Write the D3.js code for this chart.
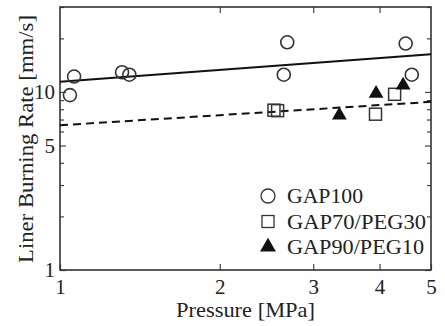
<!DOCTYPE html>
<html>
<head>
<meta charset="utf-8">
<script src="https://cdn.jsdelivr.net/npm/d3@7"></script>
<style>
  body { margin: 0; background: #fff; }
  text { font-family: "Liberation Serif", "Times New Roman", serif; fill: #222; }
</style>
</head>
<body>
<div class="chart"></div>
<script>
// data
const gap100 = [
  [1.044, 9.6], [1.063, 12.2], [1.309, 12.9], [1.351, 12.5],
  [2.64, 12.5], [2.68, 19.0], [4.48, 18.7], [4.60, 12.5]
]
const gap70peg30 = [[2.53, 7.9], [2.57, 7.85], [3.93, 7.5], [4.27, 9.7]]
const gap90peg10 = [[3.36, 7.4], [3.94, 9.8], [4.43, 10.9]]

// fitted lines (end points)
const fitSolid = [[1, 11.4], [5, 16.3]]
const fitDashed = [[1, 6.5], [5, 8.8]]

const xTicks = [1, 2, 3, 4, 5]
const yMajor = [1, 5, 10]
const yMinor = [2, 3, 4, 6, 7, 8, 9, 20, 30]

const legendItems = ["GAP100", "GAP70/PEG30", "GAP90/PEG10"]

let dimensions = {
  width: 445,
  height: 326,
  margin: { top: 7, right: 14, bottom: 56, left: 60 }
}
dimensions.boundedWidth = dimensions.width - dimensions.margin.left - dimensions.margin.right
dimensions.boundedHeight = dimensions.height - dimensions.margin.top - dimensions.margin.bottom

const svg = d3.select(".chart")
  .append("svg")
  .attr("width", dimensions.width)
  .attr("height", dimensions.height)

const bounds = svg.append("g")
  .attr("transform", `translate(${dimensions.margin.left},${dimensions.margin.top})`)

const xScale = d3.scaleLog()
  .domain([1, 5])
  .range([0, dimensions.boundedWidth])

const yScale = d3.scaleLog()
  .domain([1, 30])
  .range([dimensions.boundedHeight, 0])

const W = dimensions.boundedWidth, H = dimensions.boundedHeight

// axes, ticks pointing inward
const xAxis = d3.axisBottom(xScale).tickValues(xTicks).tickFormat(d3.format("d")).tickSize(-6).tickPadding(9)
bounds.append("g").attr("class", "xAxis")
  .attr("transform", `translate(0,${H})`)
  .call(xAxis)
bounds.append("g").attr("class", "xAxisTop")
  .call(d3.axisTop(xScale).tickValues([2, 3, 4]).tickFormat("").tickSize(-6))

const yAxis = d3.axisLeft(yScale).tickValues(yMajor).tickFormat(d3.format("d")).tickSize(-6).tickPadding(5)
bounds.append("g").attr("class", "yAxis").call(yAxis)
bounds.append("g").attr("class", "yMinor")
  .call(d3.axisLeft(yScale).tickValues(yMinor).tickFormat("").tickSize(-4))
bounds.append("g").attr("class", "yAxisRight")
  .attr("transform", `translate(${W},0)`)
  .call(d3.axisRight(yScale).tickValues(yMajor).tickFormat("").tickSize(-6))
bounds.append("g").attr("class", "yMinorRight")
  .attr("transform", `translate(${W},0)`)
  .call(d3.axisRight(yScale).tickValues(yMinor).tickFormat("").tickSize(-4))

bounds.selectAll(".domain").remove()
bounds.selectAll(".tick line").attr("stroke", "#444").attr("stroke-width", 1.2)
bounds.selectAll(".tick text")
  .style("font-family", "Liberation Serif, serif")
  .style("font-size", "21px")
  .attr("fill", "#222")

// frame
bounds.append("rect")
  .attr("width", W).attr("height", H)
  .attr("fill", "none").attr("stroke", "#333").attr("stroke-width", 1.6)

// fit lines
const line = d3.line().x(d => xScale(d[0])).y(d => yScale(d[1]))
bounds.append("path").datum(fitSolid)
  .attr("d", line).attr("fill", "none").attr("stroke", "#111").attr("stroke-width", 2)
bounds.append("path").datum(fitDashed)
  .attr("d", line).attr("fill", "none").attr("stroke", "#111").attr("stroke-width", 2)
  .attr("stroke-dasharray", "8,5")

// markers
bounds.selectAll(".c").data(gap100).enter().append("circle")
  .attr("cx", d => xScale(d[0])).attr("cy", d => yScale(d[1]))
  .attr("r", 6.5).attr("fill", "none").attr("stroke", "#333").attr("stroke-width", 1.6)

const sq = 12
bounds.selectAll(".s").data(gap70peg30).enter().append("rect")
  .attr("x", d => xScale(d[0]) - sq / 2).attr("y", d => yScale(d[1]) - sq / 2)
  .attr("width", sq).attr("height", sq)
  .attr("fill", "none").attr("stroke", "#333").attr("stroke-width", 1.5)

const tri = d3.symbol().type(d3.symbolTriangle).size(95)
bounds.selectAll(".t").data(gap90peg10).enter().append("path")
  .attr("d", tri)
  .attr("transform", d => `translate(${xScale(d[0])},${yScale(d[1])})`)
  .attr("fill", "#111")

// legend
const legendWidths = [76, 139, 137]
const legend = bounds.append("g").attr("transform", "translate(208,189)")
legendItems.forEach((name, i) => {
  const g = legend.append("g").attr("transform", `translate(0,${i * 25.5})`)
  if (i === 0) g.append("circle").attr("r", 7).attr("fill", "none").attr("stroke", "#333").attr("stroke-width", 1.3)
  if (i === 1) g.append("rect").attr("x", -6).attr("y", -6).attr("width", 12).attr("height", 12)
    .attr("fill", "none").attr("stroke", "#333").attr("stroke-width", 1.3)
  if (i === 2) g.append("path").attr("d", d3.symbol().type(d3.symbolTriangle).size(110)).attr("fill", "#111")
  g.append("text").attr("x", 19).attr("y", 7).style("font-size", "21px")
    .attr("textLength", legendWidths[i]).attr("lengthAdjust", "spacingAndGlyphs")
    .text(name)
})

// axis titles
svg.append("text")
  .attr("x", 245.5).attr("y", 317)
  .attr("text-anchor", "middle").style("font-size", "21px")
  .attr("textLength", 139).attr("lengthAdjust", "spacingAndGlyphs")
  .text("Pressure [MPa]")
svg.append("text")
  .attr("transform", "translate(33,139) rotate(-90)")
  .attr("text-anchor", "middle").style("font-size", "21px")
  .attr("textLength", 248).attr("lengthAdjust", "spacingAndGlyphs")
  .text("Liner Burning Rate [mm/s]")
</script>
</body>
</html>
